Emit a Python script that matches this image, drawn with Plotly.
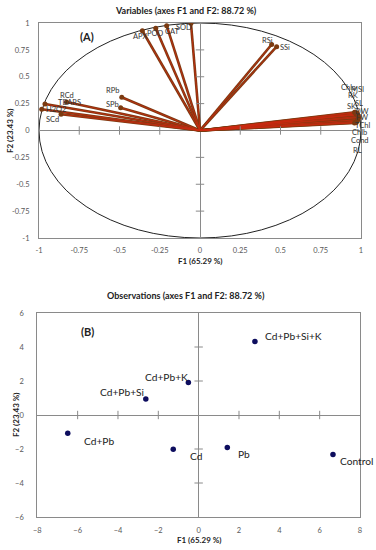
import plotly.graph_objects as go

# ---------------- data ----------------
var_names = ["SOD", "CAT", "POD", "APX", "RSi", "SSi", "RPb", "SPb", "RCd", "TBARS", "H2O2", "SCd",
             "Chla", "MSI", "RK", "SK", "SL", "DW", "FW", "TChl", "Chlb", "Cond", "RL"]
var_f1 = [-0.056, -0.207, -0.275, -0.358, 0.445, 0.476, -0.486, -0.493, -0.963, -0.829, -0.983, -0.863,
          0.960, 0.970, 0.975, 0.970, 0.980, 0.985, 0.985, 0.980, 0.975, 0.970, 0.960]
var_f2 = [0.997, 0.975, 0.951, 0.928, 0.800, 0.780, 0.309, 0.212, 0.246, 0.265, 0.197, 0.151,
          0.170, 0.165, 0.155, 0.150, 0.145, 0.130, 0.120, 0.100, 0.085, 0.075, 0.070]

obs_names = ["Cd+Pb+Si+K", "Cd+Pb+K", "Cd+Pb+Si", "Cd+Pb", "Cd", "Pb", "Control"]
obs_f1 = [2.79, -0.51, -2.62, -6.49, -1.26, 1.42, 6.66]
obs_f2 = [4.32, 1.91, 0.94, -1.08, -2.02, -1.91, -2.32]

var_ticks = [-1, -0.75, -0.5, -0.25, 0, 0.25, 0.5, 0.75, 1]
var_ticktext = ["-1", "-0.75", "-0.5", "-0.25", "0", "0.25", "0.5", "0.75", "1"]
obs_xticks = [-8, -6, -4, -2, 0, 2, 4, 6, 8]
obs_yticks = [-6, -4, -2, 0, 2, 4, 6]

# label offsets (screen px: dx right, dy down)
var_label_off = {
    "SOD": (-7, 4), "CAT": (6, 6), "POD": (0, 5), "APX": (-2, 6), "RSi": (-4, -4), "SSi": (8, 1),
    "RPb": (-9, -7), "SPb": (-8, -3), "RCd": (22, -9), "TBARS": (3, 0), "H2O2": (14, 0), "SCd": (-9, 5),
    "Chla": (-6, -25), "MSI": (1, -23), "RK": (-4, -18), "SK": (-5, -8), "SL": (1, -11), "DW": (3, -5),
    "FW": (3, 0), "TChl": (5, 6), "Chlb": (3, 11), "Cond": (4, 18), "RL": (3, 28),
}
obs_label_off = {
    "Cd+Pb+Si+K": ("left", 8, -6), "Cd+Pb+K": ("right", 2, -6), "Cd+Pb+Si": ("right", 0, -7),
    "Cd+Pb": ("left", 14, 8), "Cd": ("left", 15, 7), "Pb": ("left", 9, 7), "Control": ("left", 5, 7),
}

FONT = "Lato, sans-serif"
W, H = 376, 550
GRAY = "#8a8a8a"
TICKC = "#595959"
BROWN = "#7b3a10"
RED = "#cc2a10"

fig = go.Figure()

# vectors
lx, ly = [], []
for x, y in zip(var_f1, var_f2):
    lx += [0, x, None]
    ly += [0, y, None]
fig.add_trace(go.Scatter(x=lx, y=ly, mode="lines", line=dict(color=BROWN, width=2.6),
                         xaxis="x", yaxis="y", hoverinfo="skip", showlegend=False))
fig.add_trace(go.Scatter(x=lx, y=ly, mode="lines", line=dict(color=RED, width=0.8),
                         xaxis="x", yaxis="y", hoverinfo="skip", showlegend=False))
fig.add_trace(go.Scatter(x=var_f1, y=var_f2, mode="markers", text=var_names,
                         marker=dict(color=BROWN, size=5), xaxis="x", yaxis="y", showlegend=False))

# ticks on zero lines (top)
vt = [t for t in var_ticks if t not in (-1, 0, 1)]
fig.add_trace(go.Scatter(x=vt, y=[0]*len(vt), mode="markers",
                         marker=dict(symbol="line-ns", size=6, line=dict(color=GRAY, width=1)),
                         xaxis="x", yaxis="y", hoverinfo="skip", showlegend=False))
fig.add_trace(go.Scatter(y=vt, x=[0]*len(vt), mode="markers",
                         marker=dict(symbol="line-ew", size=6, line=dict(color=GRAY, width=1)),
                         xaxis="x", yaxis="y", hoverinfo="skip", showlegend=False))

# observations
fig.add_trace(go.Scatter(x=obs_f1, y=obs_f2, mode="markers", text=obs_names,
                         marker=dict(color="#0d0d5e", size=5.5), xaxis="x2", yaxis="y2", showlegend=False))
ox = [t for t in obs_xticks if t not in (-8, 0, 8)]
oy = [t for t in obs_yticks if t not in (-6, 0, 6)]
fig.add_trace(go.Scatter(x=ox, y=[0]*len(ox), mode="markers",
                         marker=dict(symbol="line-ns", size=6, line=dict(color=GRAY, width=1)),
                         xaxis="x2", yaxis="y2", hoverinfo="skip", showlegend=False))
fig.add_trace(go.Scatter(y=oy, x=[0]*len(oy), mode="markers",
                         marker=dict(symbol="line-ew", size=6, line=dict(color=GRAY, width=1)),
                         xaxis="x2", yaxis="y2", hoverinfo="skip", showlegend=False))

def px_x(p):
    return p / W

def px_y(p):
    return 1 - p / H

axis_common = dict(showgrid=False, zeroline=True, zerolinecolor=GRAY, zerolinewidth=1,
                   showline=True, mirror=True, linecolor=GRAY, linewidth=1, ticks="",
                   automargin=False,
                   tickfont=dict(family=FONT, size=7.5, color=TICKC))

fig.update_layout(
    width=W, height=H, margin=dict(l=0, r=0, t=0, b=0, pad=0, autoexpand=False),
    paper_bgcolor="white", plot_bgcolor="white",
    font=dict(family=FONT, color="#222222"),
    xaxis=dict(axis_common, domain=[px_x(39), px_x(361)], range=[-1, 1], tickvals=var_ticks,
               ticktext=var_ticktext, anchor="y", ticklabelstandoff=5),
    yaxis=dict(axis_common, domain=[px_y(238), px_y(23)], range=[-1, 1], tickvals=var_ticks,
               ticktext=var_ticktext, anchor="x", ticklabelstandoff=7),
    xaxis2=dict(axis_common, domain=[px_x(37.3), px_x(360)], range=[-8, 8], tickvals=obs_xticks,
                anchor="y2", ticklabelstandoff=6),
    yaxis2=dict(axis_common, domain=[px_y(517), px_y(313)], range=[-6, 6], tickvals=obs_yticks,
                anchor="x2", ticklabelstandoff=11),
    shapes=[dict(type="circle", xref="x", yref="y", x0=-1, y0=-1, x1=1, y1=1,
                 line=dict(color="#222222", width=1), layer="below")],
)

ann = []
for n, x, y in zip(var_names, var_f1, var_f2):
    dx, dy = var_label_off[n]
    ann.append(dict(x=x, y=y, xref="x", yref="y", text=n, showarrow=False, xshift=dx, yshift=-dy,
                    font=dict(family=FONT, size=7.5, color="#333333")))
for n, x, y in zip(obs_names, obs_f1, obs_f2):
    anc, dx, dy = obs_label_off[n]
    ann.append(dict(x=x, y=y, xref="x2", yref="y2", text=n, showarrow=False, xanchor=anc,
                    xshift=dx, yshift=-dy, font=dict(family=FONT, size=10.2, color="#222222")))

# titles and axis titles
def ptext(t, cx, cy, size, bold=True, angle=0):
    return dict(x=px_x(cx), y=px_y(cy), xref="paper", yref="paper", text=(f"<b>{t}</b>" if bold else t),
                showarrow=False, textangle=angle, xanchor="center", yanchor="middle",
                font=dict(family=FONT, size=size, color="#222222"))

ann += [
    ptext("Variables (axes F1 and F2: 88.72 %)", 186, 10, 9),
    ptext("Observations (axes F1 and F2: 88.72 %)", 186, 295, 9),
    ptext("F1 (65.29 %)", 200, 261, 8),
    ptext("F1 (65.29 %)", 199, 540, 8),
    ptext("F2 (23.43 %)", 10, 131, 8, angle=-90),
    ptext("F2 (23.43 %)", 16, 415, 8, angle=-90),
    ptext("(A)", 87, 37, 11),
    ptext("(B)", 87, 331, 11),
]
fig.update_layout(annotations=ann)

fig.write_html("out.html", config={"displayModeBar": False},
               post_script="document.body.style.margin='0';document.body.style.overflow='hidden';")
